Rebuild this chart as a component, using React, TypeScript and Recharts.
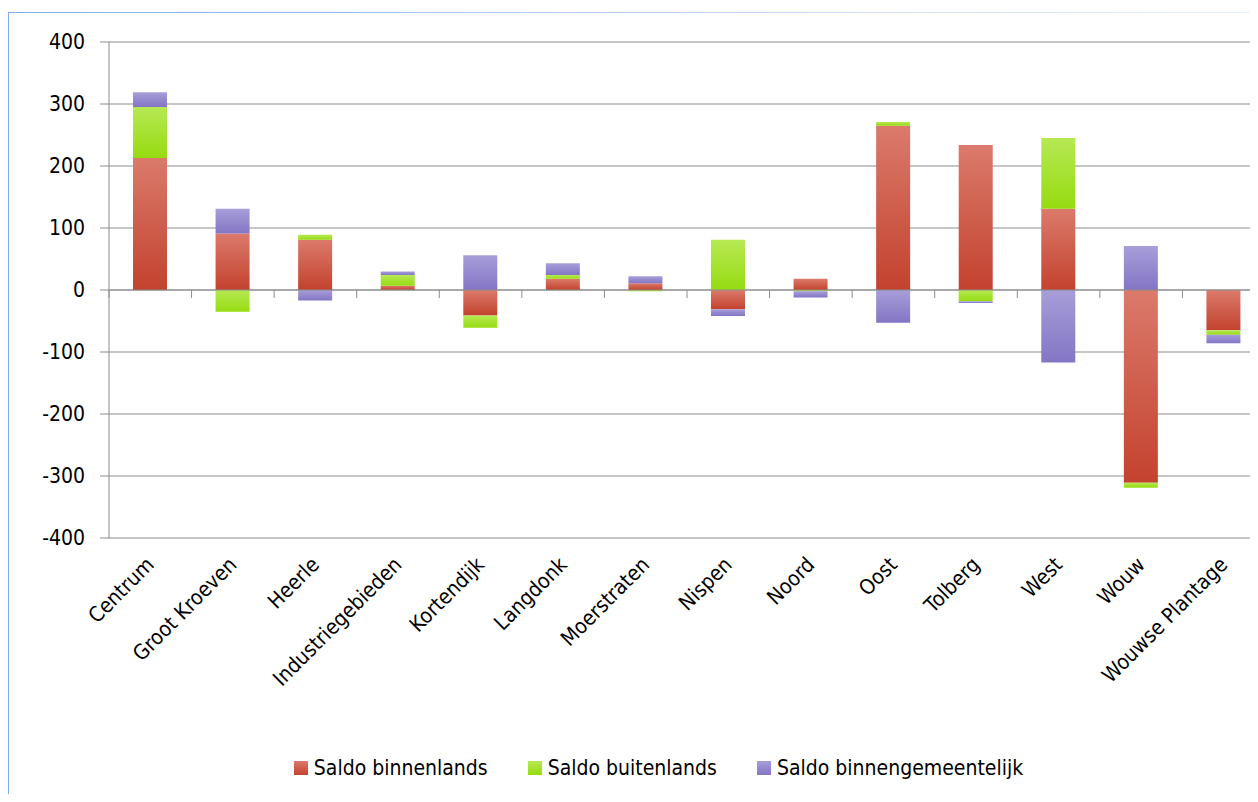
import React from 'react';
import {
  BarChart,
  Bar,
  XAxis,
  YAxis,
  CartesianGrid,
  Legend,
  ReferenceLine,
} from 'recharts';

// Wijken
const categories = [
  'Centrum',
  'Groot Kroeven',
  'Heerle',
  'Industriegebieden',
  'Kortendijk',
  'Langdonk',
  'Moerstraten',
  'Nispen',
  'Noord',
  'Oost',
  'Tolberg',
  'West',
  'Wouw',
  'Wouwse Plantage',
];

const saldoBinnenlands = [213, 91, 81, 7, -41, 18, 11, -31, 18, 265, 234, 131, -311, -65];
const saldoBuitenlands = [82, -35, 8, 17, -20, 6, -2, 81, -2, 6, -18, 114, -8, -7];
const saldoBinnengemeentelijk = [24, 40, -17, 6, 56, 19, 11, -11, -10, -53, -3, -117, 71, -14];

const yTicks = [-400, -300, -200, -100, 0, 100, 200, 300, 400];

const seriesNames = ['Saldo binnenlands', 'Saldo buitenlands', 'Saldo binnengemeentelijk'];
const seriesKeys = ['binnenlands', 'buitenlands', 'binnengemeentelijk'];
// [top, bottom] colours of each bar gradient
const seriesColors = [
  ['#db7a6b', '#c3422e'],
  ['#b6e954', '#96db11'],
  ['#a79ed9', '#8475c5'],
];

const data = categories.map((name, i) => ({
  name,
  binnenlands: saldoBinnenlands[i],
  buitenlands: saldoBuitenlands[i],
  binnengemeentelijk: saldoBinnengemeentelijk[i],
}));

const FONT = '"Liberation Sans Narrow", "DejaVu Sans Condensed", "Roboto", sans-serif';
const CHART_W = 1299;
const CHART_H = 781;
const MARGIN = { top: 29, right: 43, left: 0, bottom: 14 };
const Y_AXIS_W = 100;
const PLOT_W = CHART_W - MARGIN.left - MARGIN.right - Y_AXIS_W;
const PLOT_H = 496;
const GRID = '#8c8c8c';

// label at the bottom, little tick marks on the zero line between categories
const CategoryTick = (props: any) => {
  const { x, y, payload, index } = props;
  const half = PLOT_W / categories.length / 2;
  const zeroY = y - PLOT_H / 2;
  return (
    <g>
      <line x1={x - half} x2={x - half} y1={zeroY} y2={zeroY + 8} stroke={GRID} />
      {index === categories.length - 1 && (
        <line x1={x + half} x2={x + half} y1={zeroY} y2={zeroY + 8} stroke={GRID} />
      )}
      <text
        transform={`translate(${x + 5},${y + 28}) rotate(-45)`}
        textAnchor="end"
        fontSize={21}
        fontFamily={FONT}
        fill="#000"
      >
        {payload.value}
      </text>
    </g>
  );
};

const LegendContent = () => (
  <div
    style={{
      display: 'flex',
      justifyContent: 'center',
      alignItems: 'center',
      height: 24,
      fontFamily: FONT,
      fontSize: 21,
      color: '#000',
    }}
  >
    {seriesNames.map((name, i) => (
      <div key={name} style={{ display: 'flex', alignItems: 'center', marginRight: i < 2 ? 40 : 0 }}>
        <span
          style={{
            display: 'inline-block',
            width: 14,
            height: 14,
            marginRight: 6,
            background: `linear-gradient(${seriesColors[i][0]}, ${seriesColors[i][1]})`,
          }}
        />
        <span>{name}</span>
      </div>
    ))}
  </div>
);

export default function App() {
  return (
    <div style={{ width: 1250, height: 786, overflow: 'hidden', paddingTop: 4, boxSizing: 'border-box' }}>
      <div
        style={{
          position: 'relative',
          width: CHART_W + 1,
          height: CHART_H + 1,
          borderLeft: '1px solid #80abf0',
          background: '#fff',
        }}
      >
        <div
          style={{
            height: 1,
            width: '100%',
            background: 'linear-gradient(to right, #80abf0, #c6dbfa 60%, #eef4fd)',
          }}
        />
        <BarChart width={CHART_W} height={CHART_H} data={data} margin={MARGIN} stackOffset="sign">
          <defs>
            {seriesKeys.map((k, i) => (
              <linearGradient key={k} id={`grad-${k}`} x1="0" y1="0" x2="0" y2="1">
                <stop offset="0%" stopColor={seriesColors[i][0]} />
                <stop offset="100%" stopColor={seriesColors[i][1]} />
              </linearGradient>
            ))}
          </defs>
          <CartesianGrid vertical={false} stroke={GRID} />
          <XAxis
            dataKey="name"
            interval={0}
            height={218}
            axisLine={false}
            tickLine={false}
            tickSize={0}
            tickMargin={0}
            tick={<CategoryTick />}
          />
          <YAxis
            type="number"
            domain={[-400, 400]}
            ticks={yTicks}
            width={Y_AXIS_W}
            axisLine={{ stroke: GRID }}
            tickLine={{ stroke: GRID }}
            tickSize={9}
            tickMargin={15}
            tick={{ fontSize: 21, fontFamily: FONT, fill: '#000' }}
            allowDataOverflow
          />
          {seriesKeys.map((k, i) => (
            <Bar
              key={k}
              dataKey={k}
              name={seriesNames[i]}
              stackId="saldo"
              barSize={34}
              fill={`url(#grad-${k})`}
              isAnimationActive={false}
            />
          ))}
          <ReferenceLine y={0} stroke={GRID} />
          <Legend verticalAlign="bottom" content={<LegendContent />} wrapperStyle={{ left: 0, width: CHART_W }} />
        </BarChart>
      </div>
    </div>
  );
}
